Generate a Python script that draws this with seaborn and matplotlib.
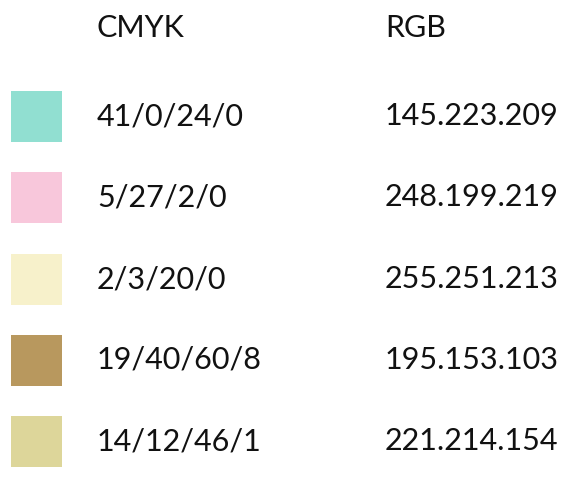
import matplotlib
matplotlib.use("Agg")
import matplotlib.pyplot as plt
import seaborn as sns
import numpy as np

headers = ["CMYK", "RGB"]
cmyk = ["41/0/24/0", "5/27/2/0", "2/3/20/0", "19/40/60/8", "14/12/46/1"]
rgb = ["145.223.209", "248.199.219", "255.251.213", "195.153.103", "221.214.154"]
swatch_rgb = [(145, 223, 209), (248, 199, 219), (247, 241, 203), (184, 152, 94), (221, 214, 154)]

sns.set_theme(style="white")
plt.rcParams['font.family'] = ['Lato', 'DejaVu Sans']

fig = plt.figure(figsize=(5.65, 4.79), dpi=100)
ax = fig.add_axes([0, 0, 1, 1])
ax.set_xlim(0, 565)
ax.set_ylim(479, 0)
ax.axis("off")

row_y = [116, 197, 279, 360, 441]
colors = [tuple(c / 255 for c in s) for s in swatch_rgb]
ax.barh(row_y, [51] * len(row_y), left=11, height=51, color=colors, linewidth=0)

fs = 22
ax.text(97, 28, headers[0], fontsize=fs, va="center", ha="left", color="#111111")
ax.text(385, 28, headers[1], fontsize=fs, va="center", ha="left", color="#111111")
for y, c, r in zip(row_y, cmyk, rgb):
    ax.text(97, y, c, fontsize=fs, va="center", ha="left", color="#111111")
    ax.text(385, y, r, fontsize=fs, va="center", ha="left", color="#111111")

fig.savefig("out.png", dpi=100, facecolor="white")
